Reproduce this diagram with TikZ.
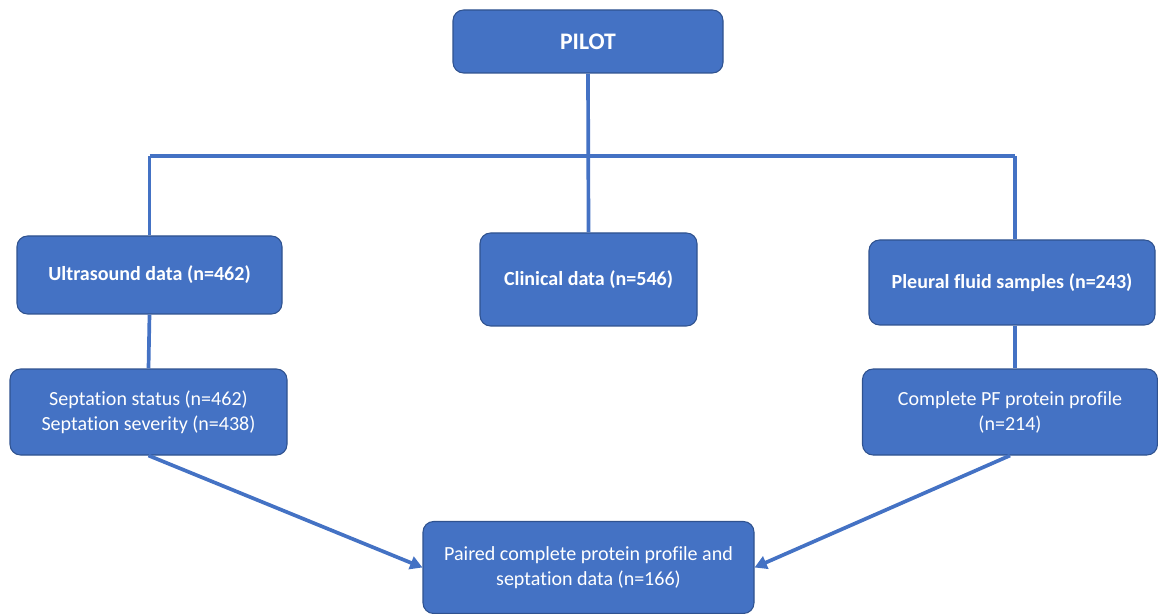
\documentclass[tikz,border=0pt]{standalone}
\usepackage{fontspec}
\setmainfont[Ligatures=NoCommon]{Carlito}
\usetikzlibrary{arrows.meta}
\definecolor{boxblue}{HTML}{4472C4}
\definecolor{boxedge}{HTML}{2F528F}
\tikzset{
  box/.style={draw=boxedge, line width=0.6pt, fill=boxblue, rounded corners=6pt,
    text=white, align=center, inner sep=0pt, font=\fontsize{11.4}{14.2}\selectfont},
  bbox/.style={box, font=\fontsize{11.4}{14.2}\selectfont\bfseries},
  conn/.style={draw=boxblue, line width=2.1pt},
  arr/.style={conn, -{Triangle[length=7pt,width=7.5pt]}}
}
\begin{document}
\begin{tikzpicture}[x=0.02cm,y=-0.02cm]
\useasboundingbox (0,0) rectangle (1158,614);
\node[bbox, font=\fontsize{13.5}{16}\selectfont\bfseries, minimum width=270*0.02cm, minimum height=63*0.02cm] (pilot) at (588,41.5) {PILOT};
\node[bbox, minimum width=265*0.02cm, minimum height=78*0.02cm] (ultra) at (149.5,275) {Ultrasound data (n=462)};
\node[bbox, minimum width=217*0.02cm, minimum height=93*0.02cm] (clin) at (588.5,279.5) {Clinical data (n=546)};
\node[bbox, minimum width=286*0.02cm, minimum height=85*0.02cm] (pleu) at (1012,282.5) {Pleural fluid samples (n=243)};
\node[box, minimum width=277*0.02cm, minimum height=86*0.02cm] (sept) at (148.5,412) {Septation status (n=462)\\Septation severity (n=438)};
\node[box, minimum width=295*0.02cm, minimum height=86*0.02cm] (prof) at (1010,412) {Complete PF protein profile\\(n=214)};
\node[box, minimum width=331*0.02cm, minimum height=92*0.02cm] (pair) at (588.5,567.5) {Paired complete protein profile and\\septation data (n=166)};
\coordinate (hl) at (150,156);
\coordinate (hr) at (1015,156);
\draw[conn] (pilot.south) -- (clin.north);
\draw[conn] (ultra.north |- hl) -- (hr);
\draw[conn] (ultra.north) -- (ultra.north |- hl);
\draw[conn] (hr) -- (hr |- pleu.north);
\draw[conn] (ultra.south) -- (sept.north);
\draw[conn] (hr |- pleu.south) -- (hr |- prof.north);
\draw[arr] (sept.south) -- (pair.west);
\draw[arr] (prof.south) -- (pair.east);
\end{tikzpicture}
\end{document}
